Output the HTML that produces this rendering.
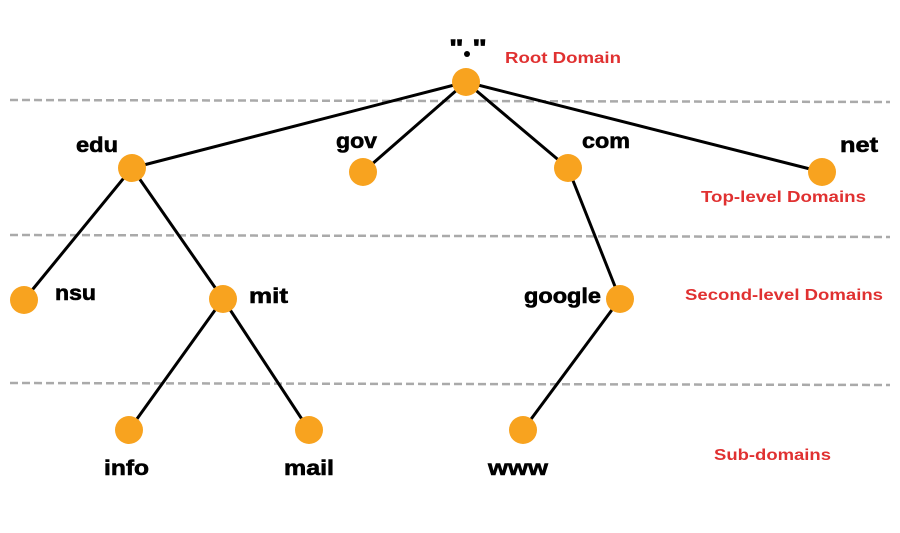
<!DOCTYPE html>
<html><head><meta charset="utf-8"><style>
html,body{margin:0;padding:0;background:#fff;}
svg{display:block;}
text{font-family:"Liberation Sans",sans-serif;font-weight:bold;}
.b{font-size:21px;fill:#000;stroke:#000;stroke-width:0.6;}
.r{font-size:16px;fill:#e03131;}
</style></head><body>
<svg width="900" height="533" viewBox="0 0 900 533">
<g stroke="#aaaaaa" stroke-width="2.5" stroke-dasharray="8,4">
<line x1="10" y1="100" x2="890" y2="102"/>
<line x1="10" y1="235" x2="890" y2="237"/>
<line x1="10" y1="383" x2="890" y2="385"/>
</g>
<g stroke="#000" stroke-width="3">
<line x1="466" y1="82" x2="132" y2="168"/>
<line x1="466" y1="82" x2="363" y2="172"/>
<line x1="466" y1="82" x2="568" y2="168"/>
<line x1="466" y1="82" x2="822" y2="172"/>
<line x1="132" y1="168" x2="24" y2="300"/>
<line x1="132" y1="168" x2="223" y2="299"/>
<line x1="223" y1="299" x2="129" y2="430"/>
<line x1="223" y1="299" x2="309" y2="430"/>
<line x1="568" y1="168" x2="620" y2="299"/>
<line x1="620" y1="299" x2="523" y2="430"/>
</g>
<g fill="#f8a31f">
<circle cx="466" cy="82" r="14"/>
<circle cx="132" cy="168" r="14"/>
<circle cx="363" cy="172" r="14"/>
<circle cx="568" cy="168" r="14"/>
<circle cx="822" cy="172" r="14"/>
<circle cx="24" cy="300" r="14"/>
<circle cx="223" cy="299" r="14"/>
<circle cx="620" cy="299" r="14"/>
<circle cx="129" cy="430" r="14"/>
<circle cx="309" cy="430" r="14"/>
<circle cx="523" cy="430" r="14"/>
</g>
<text class="b" x="449" y="56" textLength="38" lengthAdjust="spacingAndGlyphs" style="font-size:24px">" "</text>
<circle cx="467" cy="54" r="3" fill="#000"/>
<text class="r" x="505" y="63" textLength="116" lengthAdjust="spacingAndGlyphs">Root Domain</text>
<text class="b" x="76" y="152" textLength="42" lengthAdjust="spacingAndGlyphs">edu</text>
<text class="b" x="336" y="148" textLength="41" lengthAdjust="spacingAndGlyphs">gov</text>
<text class="b" x="582" y="148" textLength="48" lengthAdjust="spacingAndGlyphs">com</text>
<text class="b" x="840" y="152" textLength="38" lengthAdjust="spacingAndGlyphs">net</text>
<text class="r" x="701" y="202" textLength="165" lengthAdjust="spacingAndGlyphs">Top-level Domains</text>
<text class="b" x="55" y="300" textLength="41" lengthAdjust="spacingAndGlyphs">nsu</text>
<text class="b" x="249" y="303" textLength="39" lengthAdjust="spacingAndGlyphs">mit</text>
<text class="b" x="524" y="303" textLength="77" lengthAdjust="spacingAndGlyphs">google</text>
<text class="r" x="685" y="300" textLength="198" lengthAdjust="spacingAndGlyphs">Second-level Domains</text>
<text class="b" x="104" y="475" textLength="45" lengthAdjust="spacingAndGlyphs">info</text>
<text class="b" x="284" y="475" textLength="50" lengthAdjust="spacingAndGlyphs">mail</text>
<text class="b" x="488" y="475" textLength="60" lengthAdjust="spacingAndGlyphs">www</text>
<text class="r" x="714" y="460" textLength="117" lengthAdjust="spacingAndGlyphs">Sub-domains</text>
</svg>
</body></html>
